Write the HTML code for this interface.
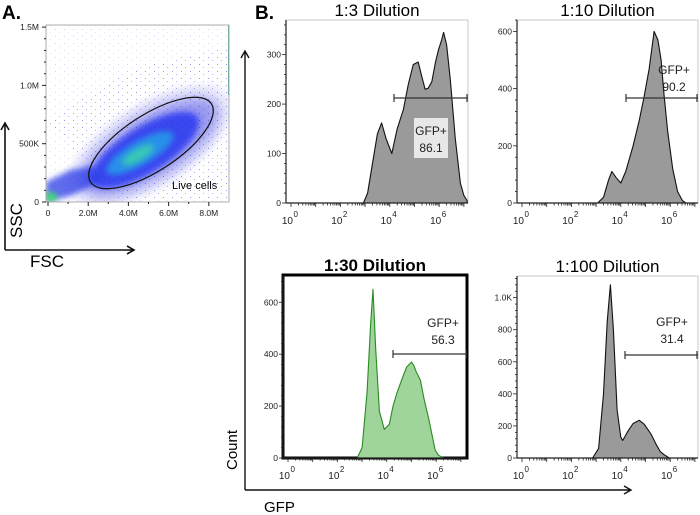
<!DOCTYPE html>
<html><head><meta charset="utf-8"><style>
body{margin:0;background:#fff;width:700px;height:515px;overflow:hidden}
svg{display:block;font-family:"Liberation Sans",sans-serif}
</style></head><body>
<svg id="fig" width="700" height="515" viewBox="0 0 700 515">
<defs>
<filter id="blur6" x="-50%" y="-50%" width="200%" height="200%"><feGaussianBlur stdDeviation="7"/></filter>
<filter id="blur3" x="-50%" y="-50%" width="200%" height="200%"><feGaussianBlur stdDeviation="3"/></filter>
<pattern id="speck" width="9" height="7" patternUnits="userSpaceOnUse">
<rect x="1" y="1" width="1" height="1" fill="#5050e0"/><rect x="5" y="4" width="1" height="1" fill="#8080ee"/>
</pattern>
<pattern id="speck2" width="4" height="4" patternUnits="userSpaceOnUse">
<rect x="0" y="0" width="1" height="1" fill="#2020d0"/><rect x="2" y="2" width="1" height="1" fill="#4a4ae0"/>
</pattern>
<clipPath id="clipA"><rect x="46" y="25" width="183" height="177"/></clipPath>
</defs>
<g id="panelA">
<text x="2" y="19" font-size="19" font-weight="bold">A.</text>
<g clip-path="url(#clipA)">
<rect x="46" y="25" width="183" height="177" fill="url(#speck)" opacity="0.25"/>
<path d="M46 120 L130 70 L235 45 L235 200 L120 200 Z" fill="url(#speck)" opacity="0.45"/>
<ellipse cx="150" cy="145" rx="95" ry="42" transform="rotate(-32 150 145)" fill="url(#speck2)" opacity="0.6" filter="url(#blur3)"/>
<ellipse cx="150" cy="147" rx="80" ry="32" transform="rotate(-32 150 147)" fill="#2a2ae0" opacity="0.45" filter="url(#blur6)"/>
<ellipse cx="145" cy="150" rx="62" ry="23" transform="rotate(-32 145 150)" fill="#1c2ff0" opacity="0.75" filter="url(#blur3)"/>
<ellipse cx="140" cy="153" rx="38" ry="12" transform="rotate(-30 140 153)" fill="#22a8e8" opacity="0.75" filter="url(#blur3)"/>
<ellipse cx="138" cy="155" rx="18" ry="6" transform="rotate(-30 138 155)" fill="#3fe0a0" opacity="0.7" filter="url(#blur3)"/>
<path d="M46 202 L46 182 L70 170 L95 166 L100 182 L70 196 Z" fill="#2a3ae8" opacity="0.75" filter="url(#blur3)"/>
<ellipse cx="51" cy="197" rx="6" ry="5" fill="#40e070" filter="url(#blur3)"/>
<rect x="228" y="25" width="1" height="70" fill="#20a080" opacity="0.7"/>
</g>
<ellipse cx="151" cy="143" rx="72" ry="28" transform="rotate(-33 151 143)" fill="none" stroke="#111" stroke-width="1.2"/>
<text x="172" y="189" font-size="11">Live cells</text>
<rect x="46" y="25" width="183" height="177" fill="none" stroke="#999" stroke-width="0.8"/>
<g id="axA" font-size="8.5" fill="#222"></g>
<g stroke="#111" stroke-width="1.6" fill="none">
<path d="M5 250 L5 124 M1 130 L5 123 L9 130"/>
<path d="M5 250 L133 250 M127 246 L134 250 L127 254"/>
</g>
<text transform="translate(22 238) rotate(-90)" font-size="17">SSC</text>
<text x="30" y="267" font-size="17">FSC</text>
</g>
<g id="panelB">
<text x="255" y="19" font-size="19" font-weight="bold">B.</text>
<g stroke="#111" stroke-width="1.4" fill="none">
<path d="M245 490 L245 52 M241 58 L245 51 L249 58"/>
<path d="M245 490 L630 490 M624 486 L631 490 L624 494"/>
</g>
<text transform="translate(237 470) rotate(-90)" font-size="15">Count</text>
<text x="264" y="512" font-size="15">GFP</text>
<g id="hists"></g>
</g>
</svg>
<script>
// Panel A ticks
const scatterXTicks = ["0","2.0M","4.0M","6.0M","8.0M"];
const scatterYTicks = ["0","500K","1.0M","1.5M"];
// histogram data: x in log10(GFP), y in counts
const h1x = [2.9,2.93,3.1,3.3,3.5,3.67,3.85,4.08,4.3,4.55,4.75,4.95,5.15,5.3,5.43,5.55,5.7,5.85,5.97,6.1,6.18,6.3,6.45,6.65,6.86,7.0,7.13];
const h1y = [0,0,20,80,140,162,130,100,150,189,240,280,285,255,230,232,245,285,310,330,345,320,250,130,40,15,5];
const h2x = [2.9,3.06,3.3,3.5,3.64,3.8,4.0,4.2,4.5,4.75,4.94,5.15,5.35,5.5,5.63,5.75,5.9,6.1,6.3,6.5,6.64,7.1];
const h2y = [0,0,20,80,110,90,70,110,200,290,370,470,600,570,500,380,250,120,40,8,0,0];
const h3x = [2.7,2.8,3.0,3.2,3.35,3.44,3.55,3.7,3.9,4.1,4.25,4.41,4.6,4.8,5.0,5.1,5.2,5.36,5.5,5.7,5.85,5.96,6.1,6.3,7.1];
const h3y = [0,0,40,250,520,650,420,180,110,130,200,250,300,350,370,355,330,300,230,150,80,30,10,0,0];
const h4x = [2.7,2.86,3.1,3.3,3.45,3.58,3.7,3.85,4.0,4.08,4.3,4.5,4.75,4.95,5.22,5.45,5.6,5.76,5.96,7.1];
const h4y = [0,0,60,400,850,1080,800,300,130,110,170,215,235,210,150,80,40,20,0,0];
const panels = [
 {name:"dilution-1-3",title:"1:3 Dilution",bold:false,L:286,R:468,T:20,B:203,ymax:370,yticks:[0,100,200,300],ylab:["0","100","200","300"],xs:h1x,ys:h1y,fill:"#9a9a9a",stroke:"#111",gateY:98,gateX0:394,gate:["GFP+","86.1"],gx:431,gy:135,box:true},
 {name:"dilution-1-10",title:"1:10 Dilution",bold:false,L:517,R:698,T:20,B:203,ymax:640,yticks:[0,200,400,600],ylab:["0","200","400","600"],xs:h2x,ys:h2y,fill:"#9a9a9a",stroke:"#111",gateY:98,gateX0:626,gate:["GFP+","90.2"],gx:674,gy:74,box:false},
 {name:"dilution-1-30",title:"1:30 Dilution",bold:true,L:283,R:467,T:275,B:458,ymax:705,yticks:[0,200,400,600],ylab:["0","200","400","600"],xs:h3x,ys:h3y,fill:"#9fd49a",stroke:"#2a8a22",gateY:354,gateX0:393,gate:["GFP+","56.3"],gx:443,gy:327,box:false},
 {name:"dilution-1-100",title:"1:100 Dilution",bold:false,L:517,R:698,T:276,B:458,ymax:1135,yticks:[0,200,400,600,800,1000],ylab:["0","200","400","600","800","1.0K"],xs:h4x,ys:h4y,fill:"#9a9a9a",stroke:"#111",gateY:355,gateX0:625,gate:["GFP+","31.4"],gx:672,gy:326,box:false}
];
const NS="http://www.w3.org/2000/svg";
function mk(tag,attrs,parent){const e=document.createElementNS(NS,tag);for(const k in attrs)e.setAttribute(k,attrs[k]);parent.appendChild(e);return e;}
const axA=document.getElementById('axA');
const sx=v=>48+v*20.1, sy=v=>202-v*116.6;
scatterXTicks.forEach((t,i)=>{
 const x=sx(i*2);
 const l=mk('line',{x1:x,y1:202,x2:x,y2:206,stroke:'#222'},axA);
 
 
 const tx=mk('text',{x:x,y:216,'text-anchor':'middle'},axA);tx.textContent=t;
 
 
});
for(let i=1;i<9;i+=2){mk('line',{x1:sx(i),y1:202,x2:sx(i),y2:204,stroke:'#222'},axA);}
scatterYTicks.forEach((t,i)=>{
 const y=sy(i*0.5);
 mk('line',{x1:42,y1:y,x2:46,y2:y,stroke:'#222'},axA);
 const tx=mk('text',{x:39,y:y+3,'text-anchor':'end'},axA);tx.textContent=t;
 
 
});
for(let i=1;i<15;i++){if(i%5)mk('line',{x1:44,y1:sy(i*0.1),x2:46,y2:sy(i*0.1),stroke:'#222'},axA);}
const hg=document.getElementById('hists');
panels.forEach(p=>{
 const g=mk('g',{},hg);
 
 
 const X=L=>p.L+5+24.7*L, Y=c=>p.B-(c/p.ymax)*(p.B-p.T);
 const tt=mk('text',{x:(p.L+p.R)/2,y:p.T-4,'text-anchor':'middle','font-size':17,'font-weight':p.bold?'bold':'normal'},g);
 tt.textContent=p.title;
 
 
 mk('rect',{x:p.L,y:p.T,width:p.R-p.L,height:p.B-p.T,fill:'#fff',stroke:p.bold?'#000':'#bbb','stroke-width':p.bold?3:0.8},g);
 let d='M'+X(p.xs[0])+' '+p.B;
 p.xs.forEach((v,i)=>{d+=' L'+Math.min(X(v),p.R).toFixed(1)+' '+Y(p.ys[i]).toFixed(1);});
 d+=' L'+Math.min(X(p.xs[p.xs.length-1]),p.R)+' '+p.B+' Z';
 const a=mk('path',{d:d,fill:p.fill,stroke:p.stroke,'stroke-width':1.1,'stroke-linejoin':'round'},g);
 
 
 mk('line',{x1:p.L,y1:p.B,x2:p.R,y2:p.B,stroke:'#222','stroke-width':1.2},g);
 mk('line',{x1:p.L,y1:p.T,x2:p.L,y2:p.B,stroke:'#222','stroke-width':1.2},g);
 for(let dec=0;dec<=7;dec++){
  for(let k=1;k<10;k++){const lx=X(dec+Math.log10(k));if(lx>p.R)break;
   mk('line',{x1:lx,y1:p.B,x2:lx,y2:p.B+(k==1?4:2.5),stroke:'#222','stroke-width':0.8},g);}
 }
 [0,2,4,6].forEach(e=>{
  const tx=mk('text',{x:X(e)+2,y:p.B+21,'text-anchor':'end','font-size':10,fill:'#222'},g);
  tx.textContent='10';
  
  
  const sp=mk('text',{x:X(e)+2.5,y:p.B+14,'font-size':8,fill:'#222'},g);sp.textContent=e;
 });
 const step=p.yticks[1]-p.yticks[0];
 for(let v=0;v<=p.ymax;v+=step/5){const y=Y(v);
  mk('line',{x1:p.L-(v%step===0?4:2),y1:y,x2:p.L,y2:y,stroke:'#222','stroke-width':0.8},g);}
 p.yticks.forEach((v,i)=>{
  const tx=mk('text',{x:p.L-5,y:Y(v)+3,'text-anchor':'end','font-size':8.5,fill:'#222'},g);
  tx.textContent=p.ylab[i];
  
  
 });
 const gt=mk('path',{d:`M${p.gateX0} ${p.gateY} L${p.R} ${p.gateY} M${p.gateX0} ${p.gateY-4} L${p.gateX0} ${p.gateY+4} M${p.R-1} ${p.gateY-4} L${p.R-1} ${p.gateY+4}`,stroke:'#333','stroke-width':1.2,fill:'none'},g);
 
 
 if(p.box){mk('rect',{x:p.gx-17,y:p.gy-17,width:34,height:40,fill:'#e8e8e8'},g);}
 p.gate.forEach((s,i)=>{
  const tx=mk('text',{x:p.gx,y:p.gy+i*17,'text-anchor':'middle','font-size':12,fill:'#222'},g);
  tx.textContent=s;
  
  
 });
});
</script>
</body></html>
